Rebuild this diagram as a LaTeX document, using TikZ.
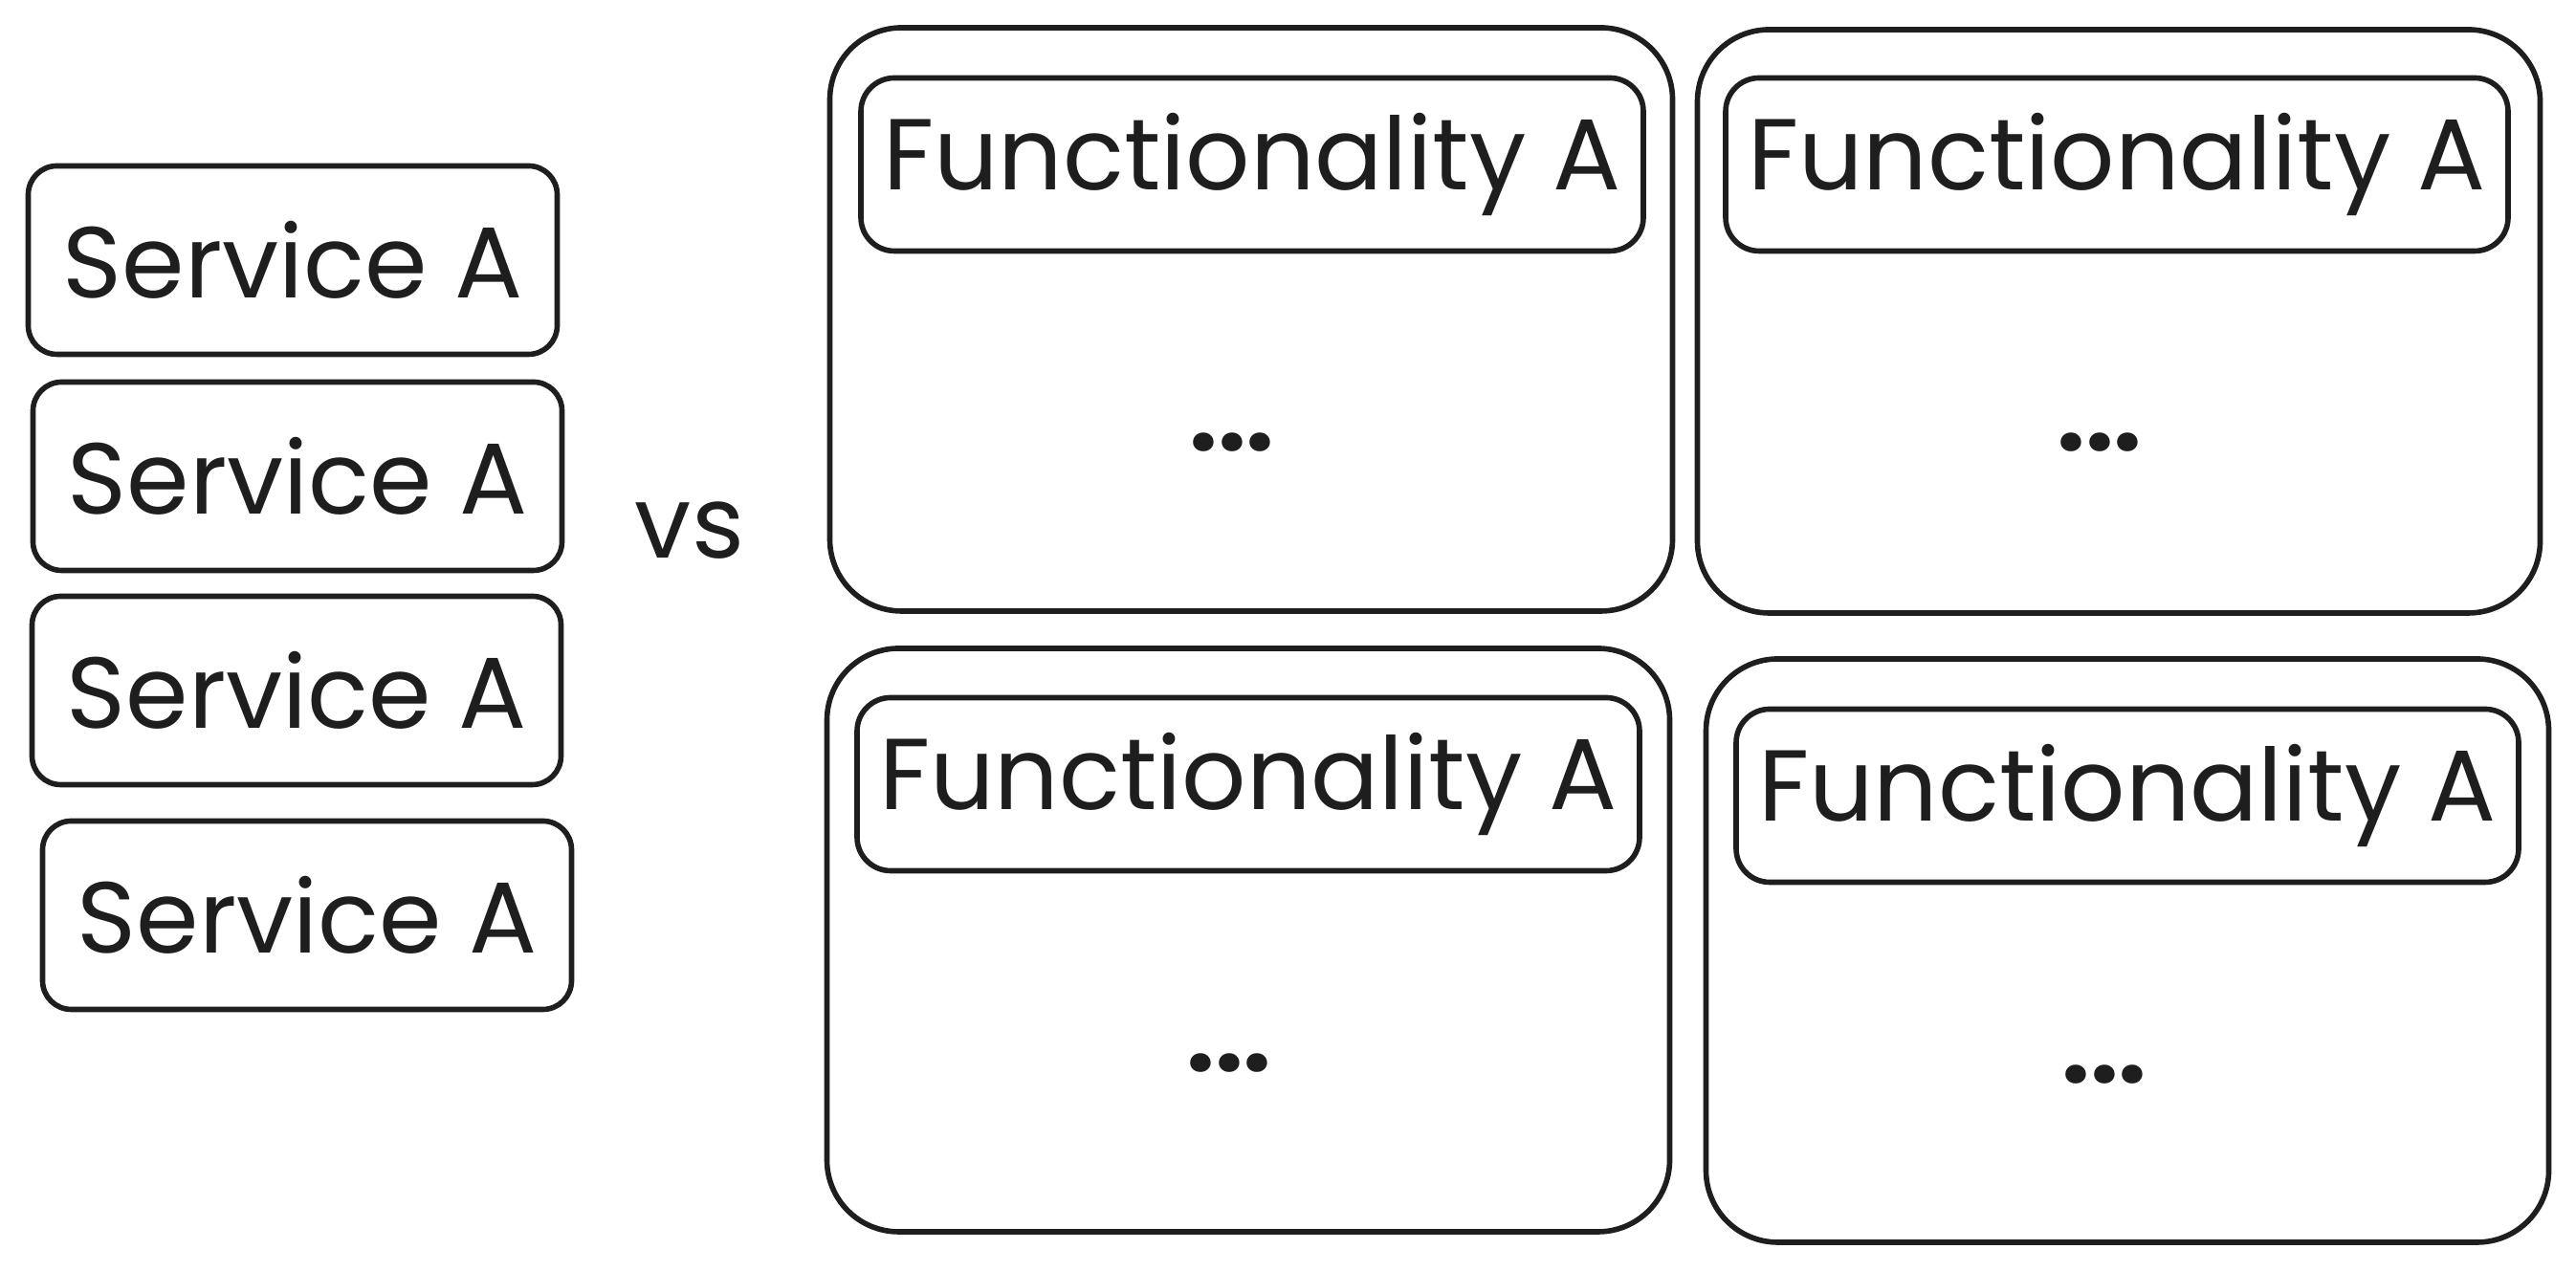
\documentclass[tikz,border=0pt]{standalone}
\usepackage{fontspec}
\setmainfont{Poppins}
\definecolor{ink}{HTML}{1E1E1E}
\tikzset{
  svcbox/.style={draw=ink, line width=1.6pt, rounded corners=0.3cm, minimum width=5.53cm, minimum height=1.97cm, inner sep=0pt, text=ink, font=\fontsize{30}{36}\selectfont},
  bigbox/.style={draw=ink, line width=1.6pt, rounded corners=0.75cm, minimum width=8.81cm, minimum height=6.10cm, inner sep=0pt},
  titlebox/.style={draw=ink, line width=1.6pt, rounded corners=0.35cm, minimum width=8.18cm, minimum height=1.81cm, inner sep=0pt, text=ink, font=\fontsize{30}{36}\selectfont},
  dotslabel/.style={text=ink, anchor=base, inner sep=0pt, font=\fontsize{30}{36}\selectfont\bfseries},
  vslabel/.style={text=ink, anchor=base, inner sep=0pt, font=\fontsize{30}{36}\selectfont}
}
\begin{document}
\begin{tikzpicture}
\useasboundingbox (0,0) rectangle (26.93,13.29);
% service column
\node[svcbox] (s1) at (3.06,10.57) {Service A};
\node[svcbox] (s2) at (3.11,8.31) {Service A};
\node[svcbox] (s3) at (3.10,6.07) {Service A};
\node[svcbox] (s4) at (3.21,3.72) {Service A};
\node[vslabel] (vs) at (7.21,7.45) {vs};
% big boxes
\node[bigbox] (tl) at (13.08,9.95) {};
\node[titlebox] (tlt) at (13.09,11.57) {Functionality A};
\node[dotslabel] (tld) at (12.88,8.57) {...};
\node[bigbox] (tr) at (22.15,9.93) {};
\node[titlebox] (trt) at (22.13,11.57) {Functionality A};
\node[dotslabel] (trd) at (21.95,8.57) {...};
\node[bigbox] (bl) at (13.05,3.46) {};
\node[titlebox] (blt) at (13.05,5.09) {Functionality A};
\node[dotslabel] (bld) at (12.85,2.08) {...};
\node[bigbox] (br) at (22.24,3.35) {};
\node[titlebox] (brt) at (22.24,4.97) {Functionality A};
\node[dotslabel] (brd) at (22.00,1.96) {...};
\end{tikzpicture}
\end{document}
